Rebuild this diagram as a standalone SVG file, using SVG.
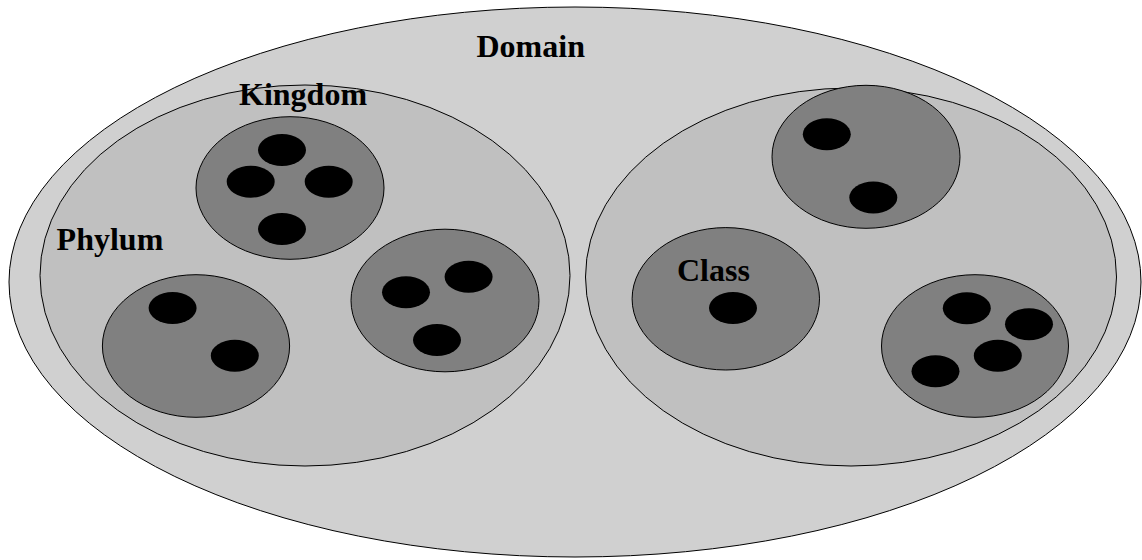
<svg xmlns="http://www.w3.org/2000/svg" width="1142" height="560" viewBox="0 0 1142 560">
  <style>
    .domain { fill: #d0d0d0; stroke: #000; stroke-width: 1; }
    .phylum { fill: #c0c0c0; stroke: #000; stroke-width: 1; }
    .cls { fill: #808080; stroke: #000; stroke-width: 1; }
    .dot { fill: #000; }
    .label { font-family: "Liberation Serif", "Times New Roman", serif; font-weight: bold; font-size: 32px; fill: #000; }
  </style>
  <rect width="1142" height="560" fill="#fff"/>

  <!-- outermost level -->
  <g id="domain">
    <ellipse class="domain" cx="575" cy="282" rx="566" ry="275"/>
  </g>

  <!-- the two nested groups -->
  <g id="phylum-left">
    <ellipse class="phylum" cx="305" cy="275.5" rx="265" ry="190.5"/>
  </g>
  <g id="phylum-right">
    <ellipse class="phylum" cx="851" cy="277" rx="265.5" ry="189"/>
  </g>

  <!-- inner groups with their members -->
  <g id="class-left-top">
    <ellipse class="cls" cx="290" cy="188" rx="94" ry="71.3"/>
    <ellipse class="dot" cx="282" cy="150" rx="24" ry="16"/>
    <ellipse class="dot" cx="250.7" cy="181.7" rx="24" ry="16"/>
    <ellipse class="dot" cx="328.7" cy="181.7" rx="24" ry="16"/>
    <ellipse class="dot" cx="282" cy="229" rx="24" ry="16"/>
  </g>
  <g id="class-left-right">
    <ellipse class="cls" cx="445" cy="300.5" rx="94" ry="71.3"/>
    <ellipse class="dot" cx="406" cy="292.3" rx="24" ry="16"/>
    <ellipse class="dot" cx="468.6" cy="276.8" rx="24" ry="16"/>
    <ellipse class="dot" cx="437" cy="340" rx="24" ry="16"/>
  </g>
  <g id="class-left-bottom">
    <ellipse class="cls" cx="196" cy="346" rx="93.6" ry="71.3"/>
    <ellipse class="dot" cx="172.6" cy="308" rx="24" ry="16"/>
    <ellipse class="dot" cx="234.8" cy="355.7" rx="24" ry="16"/>
  </g>
  <g id="class-right-top">
    <ellipse class="cls" cx="866" cy="156.8" rx="94" ry="71.5"/>
    <ellipse class="dot" cx="826.8" cy="134.3" rx="24" ry="16"/>
    <ellipse class="dot" cx="873.3" cy="197.5" rx="24" ry="16"/>
  </g>
  <g id="class-right-left">
    <ellipse class="cls" cx="725.8" cy="298.8" rx="93.7" ry="71.2"/>
    <ellipse class="dot" cx="733" cy="308" rx="24" ry="16"/>
  </g>
  <g id="class-right-bottom">
    <ellipse class="cls" cx="975" cy="346" rx="93.5" ry="71.3"/>
    <ellipse class="dot" cx="966.8" cy="308.2" rx="24" ry="16"/>
    <ellipse class="dot" cx="1029" cy="324.2" rx="24" ry="16"/>
    <ellipse class="dot" cx="997.8" cy="355.7" rx="24" ry="16"/>
    <ellipse class="dot" cx="935.5" cy="371.3" rx="24" ry="16"/>
  </g>

  <!-- level names -->
  <g id="labels">
    <text class="label" x="476.5" y="56.7">Domain</text>
    <text class="label" x="239" y="105.3">Kingdom</text>
    <text class="label" x="56.6" y="250">Phylum</text>
    <text class="label" x="677" y="280.7">Class</text>
  </g>

  <!-- no connectors: levels are shown by nesting -->
  <g id="connectors"/>
</svg>
